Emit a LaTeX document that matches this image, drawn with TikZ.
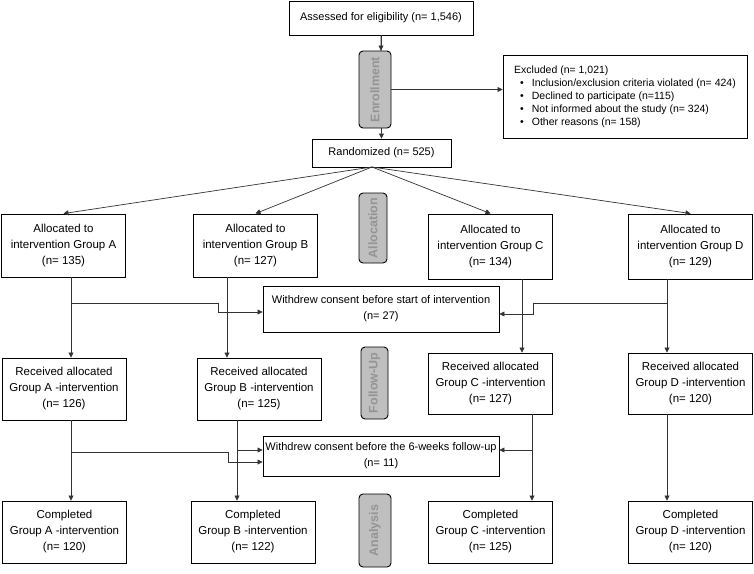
\documentclass[tikz,border=0pt]{standalone}
\usepackage{fontspec}
\setmainfont{Liberation Sans}
\usetikzlibrary{arrows.meta, positioning, calc}

\newcommand{\bulletitem}[1]{\hspace*{6pt}\textbullet\hspace{8pt}#1}

\tikzset{
    box/.style={draw, line width=0.9pt, align=center, inner sep=2pt,
        font=\fontsize{11}{16}\selectfont},
    grpbox/.style={box, minimum width=124pt, minimum height=63pt,
        font=\fontsize{11.5}{16}\selectfont},
    phase/.style={draw, line width=0.9pt, rounded corners=4pt, fill=black!25,
        text=black!42, rotate=90, inner sep=0pt,
        font=\fontsize{12.5}{14}\selectfont\bfseries},
    link/.style={draw=black!80, line width=0.7pt},
    arr/.style={link, -{Triangle[length=5pt, width=5pt]}}
}

\begin{document}
\begin{tikzpicture}[x=1pt, y=-1pt]
    \useasboundingbox (0,0) rectangle (754,573);

    % Enrollment
    \node [box, minimum width=184pt, minimum height=34pt] (assess) at (381,18) {Assessed for eligibility (n= 1,546)};
    \node [box, minimum width=139pt, minimum height=28pt] (rand) at (381.5,153) {Randomized (n= 525)};
    \node [box, align=left, minimum width=244pt, minimum height=83pt, inner sep=5pt,
        font=\fontsize{10.5}{13}\selectfont] (excl) at (625,96.5)
        {Excluded (n= 1,021)\\
         \bulletitem{Inclusion/exclusion criteria violated (n= 424)}\\
         \bulletitem{Declined to participate (n=115)}\\
         \bulletitem{Not informed about the study (n= 324)}\\
         \bulletitem{Other reasons (n= 158)}};

    % Allocation
    \node [grpbox] (allocA) at (63.5,245.5) {Allocated to\\intervention Group A\\(n= 135)};
    \node [grpbox] (allocB) at (255.5,245.5) {Allocated to\\intervention Group B\\(n= 127)};
    \node [grpbox, minimum height=65pt] (allocC) at (490.5,246.5) {Allocated to\\intervention Group C\\(n= 134)};
    \node [grpbox, minimum height=65pt] (allocD) at (690.5,246.5) {Allocated to\\intervention Group D\\(n= 129)};
    \node [box, minimum width=236pt, minimum height=46pt] (wdStart) at (381,309)
        {Withdrew consent before start of intervention\\(n= 27)};

    % Follow-up
    \node [grpbox, minimum height=62pt] (recA) at (64,389) {Received allocated\\Group A -intervention\\(n= 126)};
    \node [grpbox, minimum height=62pt] (recB) at (259,389) {Received allocated\\Group B -intervention\\(n= 125)};
    \node [grpbox, minimum height=61pt] (recC) at (490.5,383.5) {Received allocated\\Group C -intervention\\(n= 127)};
    \node [grpbox, minimum height=61pt] (recD) at (690.5,383.5) {Received allocated\\Group D -intervention\\(n= 120)};
    \node [box, minimum width=236pt, minimum height=40pt] (wdFollow) at (381,456)
        {Withdrew consent before the 6-weeks follow-up\\(n= 11)};

    % Analysis
    \node [grpbox, minimum height=62pt] (compA) at (64.5,532) {Completed\\Group A -intervention\\(n= 120)};
    \node [grpbox, minimum height=62pt] (compB) at (253,532) {Completed\\Group B -intervention\\(n= 122)};
    \node [grpbox, minimum height=62pt] (compC) at (490.5,532) {Completed\\Group C -intervention\\(n= 125)};
    \node [grpbox, minimum height=62pt] (compD) at (690.5,532) {Completed\\Group D -intervention\\(n= 120)};

    % Column and junction points
    \coordinate (split) at (372,167);
    \coordinate (jA1) at (71,303);   \coordinate (kA1) at (218,312);
    \coordinate (colB1) at (227,0);
    \coordinate (colC1) at (522,0);
    \coordinate (jD1) at (667,303);  \coordinate (kD1) at (533,314);
    \coordinate (jA2) at (71,452);   \coordinate (kA2) at (228,462);
    \coordinate (jB2) at (237,450);
    \coordinate (jC2) at (532,450);

    % Connectors
    \draw [arr] (assess.south) -- (rand.north);
    \foreach \g in {allocA, allocB, allocC, allocD}
        \draw [arr] (split) -- (\g.north);

    \draw [arr] (allocA.south -| jA1) -- (recA.north -| jA1);
    \draw [arr] (jA1) -| (kA1) -- (kA1 -| wdStart.west);
    \draw [arr] (allocB.south -| colB1) -- (recB.north -| colB1);
    \draw [arr] (allocC.south -| colC1) -- (recC.north -| colC1);
    \draw [arr] (allocD.south -| jD1) -- (recD.north -| jD1);
    \draw [arr] (jD1) -| (kD1) -- (kD1 -| wdStart.east);

    \draw [arr] (recA.south -| jA2) -- (compA.north -| jA2);
    \draw [arr] (jA2) -| (kA2) -- (kA2 -| wdFollow.west);
    \draw [arr] (recB.south -| jB2) -- (compB.north -| jB2);
    \draw [arr] (jB2) -- (jB2 -| wdFollow.west);
    \draw [arr] (recC.south -| jC2) -- (compC.north -| jC2);
    \draw [arr] (jC2) -- (jC2 -| wdFollow.east);
    \draw [arr] (recD.south -| jD1) -- (compD.north -| jD1);

    % Phase labels
    \node [phase, minimum width=77pt, minimum height=32pt] (enroll) at (375,89.5) {Enrollment};
    \node [phase, minimum width=70pt, minimum height=28pt] (allocLbl) at (373,228) {Allocation};
    \node [phase, minimum width=72pt, minimum height=27pt] (followLbl) at (374.5,383) {Follow-Up};
    \node [phase, minimum width=73pt, minimum height=32pt] (analysisLbl) at (375,530.5) {Analysis};

    \draw [arr] (assess.south) -- (assess.south |- enroll.east);
    \draw [arr] (enroll.south) -- (enroll.south -| excl.west);
\end{tikzpicture}
\end{document}
